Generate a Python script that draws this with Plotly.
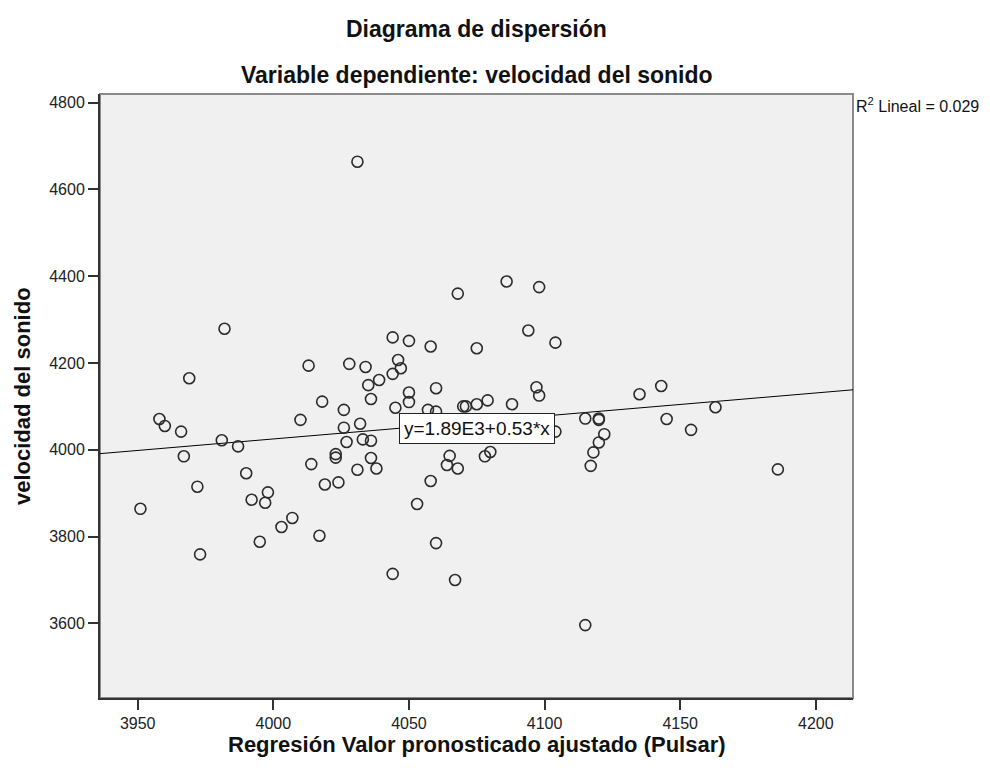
import plotly.graph_objects as go

# Predicted values (x) and observed speed of sound (y)
pred = [3951, 3958, 3960, 3966, 3967, 3969, 3972, 3973, 3981, 3982,
        3987, 3990, 3992, 3995, 3997, 3998, 4003, 4007, 4010, 4013,
        4014, 4017, 4018, 4019, 4023, 4023, 4024, 4026, 4026, 4027,
        4028, 4031, 4031, 4032, 4033, 4034, 4035, 4036, 4036, 4036,
        4038, 4039, 4044, 4044, 4044, 4045, 4046, 4047, 4050, 4050,
        4050, 4053, 4057, 4058, 4058, 4060, 4060, 4060, 4064, 4065,
        4067, 4068, 4068, 4070, 4071, 4075, 4075, 4078, 4079, 4080,
        4086, 4088, 4094, 4097, 4098, 4098, 4104, 4104, 4115, 4115,
        4117, 4118, 4120, 4120, 4120, 4122, 4135, 4143, 4145, 4154,
        4163, 4186]
vel = [3864, 4071, 4055, 4042, 3985, 4165, 3915, 3759, 4022, 4279,
       4008, 3946, 3885, 3788, 3878, 3902, 3822, 3843, 4069, 4194,
       3967, 3802, 4111, 3920, 3990, 3982, 3925, 4092, 4051, 4018,
       4198, 4664, 3954, 4060, 4024, 4191, 4149, 4021, 3981, 4117,
       3957, 4161, 4175, 4259, 3714, 4097, 4207, 4188, 4132, 4110,
       4251, 3875, 4092, 4238, 3928, 4088, 4142, 3785, 3965, 3986,
       3700, 4360, 3957, 4100, 4100, 4105, 4234, 3985, 4114, 3995,
       4388, 4105, 4275, 4144, 4375, 4125, 4247, 4042, 4072, 3596,
       3963, 3994, 4069, 4072, 4017, 4036, 4128, 4147, 4071, 4046,
       4098, 3955]

# Fit line coefficients (as drawn)
intercept = 1905.0
slope = 0.53

x_range = [3936.1, 4213.7]
y_range = [3428, 4820]
x_ticks = [3950, 4000, 4050, 4100, 4150, 4200]
y_ticks = [3600, 3800, 4000, 4200, 4400, 4600, 4800]

FONT = "Liberation Sans, Arial, sans-serif"

fig = go.Figure()

fig.add_trace(go.Scatter(
    x=x_range, y=[intercept + slope * v for v in x_range],
    mode="lines", line=dict(color="black", width=1),
    hoverinfo="skip", showlegend=False))

fig.add_trace(go.Scatter(
    x=pred, y=vel, mode="markers",
    marker=dict(symbol="circle-open", size=11, color="#2b2b2b",
                line=dict(width=1.6, color="#2b2b2b")),
    hoverinfo="skip", showlegend=False))

# frame (top/right gray)
fig.add_shape(type="rect", xref="paper", yref="paper", x0=0, x1=1, y0=0, y1=1,
              line=dict(color="#8a8a8a", width=2), layer="below")

axis_common = dict(ticks="outside", ticklen=10, tickwidth=1.5, tickcolor="#333",
                   showgrid=False, zeroline=False, showline=True,
                   linecolor="#333", linewidth=2, automargin=False,
                   tickfont=dict(size=16, color="#222", family=FONT))

# page body has an 8px margin, so the figure is sized to keep the plot area in place
fig.update_layout(
    width=982, height=763,
    margin=dict(l=92, r=137, t=86, b=73),
    paper_bgcolor="white", plot_bgcolor="#F0F0F0",
    font=dict(family=FONT, color="#222", size=12),
    showlegend=False,
    xaxis=dict(range=x_range, tickvals=x_ticks, **axis_common),
    yaxis=dict(range=y_range, tickvals=y_ticks, **axis_common),
)

fig.add_annotation(xref="paper", yref="paper", x=0.5, y=1, yshift=65,
                   text="<b>Diagrama de dispersión</b>", showarrow=False,
                   font=dict(size=23, color="#111", family=FONT),
                   xanchor="center", yanchor="middle")
fig.add_annotation(xref="paper", yref="paper", x=0.5, y=1, yshift=19,
                   text="<b>Variable dependiente: velocidad del sonido</b>", showarrow=False,
                   font=dict(size=23, color="#111", family=FONT),
                   xanchor="center", yanchor="middle")
fig.add_annotation(xref="paper", yref="paper", x=0.5, y=0, yshift=-46,
                   text="<b>Regresión Valor pronosticado ajustado (Pulsar)</b>", showarrow=False,
                   font=dict(size=22, color="#111", family=FONT),
                   xanchor="center", yanchor="middle")
fig.add_annotation(xref="paper", yref="paper", x=0, y=0.5, xshift=-78,
                   text="<b>velocidad del sonido</b>", showarrow=False, textangle=-90,
                   font=dict(size=22, color="#111", family=FONT),
                   xanchor="center", yanchor="middle")
fig.add_annotation(xref="paper", yref="paper", x=1, y=1, xshift=1, yshift=-11,
                   text="R<sup>2</sup> Lineal = 0.029", showarrow=False,
                   font=dict(size=16, color="#111", family=FONT),
                   xanchor="left", yanchor="middle")
fig.add_annotation(x=4074.9, y=4048.5, xref="x", yref="y",
                   text="y=1.89E3+0.53*x", showarrow=False,
                   font=dict(size=19, color="#111", family=FONT),
                   bgcolor="white", bordercolor="#222", borderwidth=1, borderpad=4,
                   xanchor="center", yanchor="middle")

fig.write_html("out.html")
